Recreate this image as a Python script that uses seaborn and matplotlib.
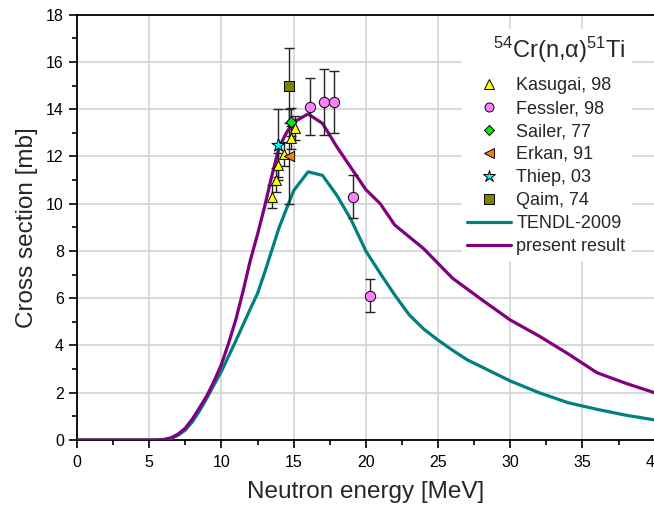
import numpy as np
import pandas as pd
import matplotlib
matplotlib.use("Agg")
import matplotlib.pyplot as plt
from matplotlib.lines import Line2D
import seaborn as sns

# ---- data ----
tendl_e = [0, 5, 6, 6.5, 7, 7.5, 8, 8.5, 9, 9.5, 10, 11, 12, 12.5, 13, 14, 15, 16, 17, 18,
           19, 20, 21, 22, 23, 24, 25, 26, 27, 28, 30, 32, 34, 36, 38, 40]
tendl_xs = [0, 0, 0.01, 0.06, 0.2, 0.42, 0.78, 1.25, 1.78, 2.35, 2.9, 4.2, 5.55, 6.2, 7.1, 9.0,
            10.55, 11.35, 11.2, 10.35, 9.3, 8.0, 7.05, 6.14, 5.3, 4.7, 4.23, 3.8, 3.4, 3.1,
            2.5, 2.0, 1.58, 1.3, 1.05, 0.85]

present_e = [0, 5.5, 6, 6.5, 7, 7.5, 8, 8.5, 9, 9.5, 10, 10.5, 11, 11.5, 12, 12.5, 13, 13.5,
             14, 14.5, 15, 16, 17, 18, 19, 20, 21, 22, 24, 26, 28, 30, 32, 34, 36, 38, 40]
present_xs = [0, 0, 0.02, 0.09, 0.25, 0.5, 0.9, 1.38, 1.88, 2.5, 3.2, 4.1, 5.1, 6.3, 7.6, 8.7,
              9.9, 11.2, 12.4, 13.0, 13.45, 13.8, 13.4, 12.4, 11.5, 10.6, 10.0, 9.1, 8.1,
              6.85, 5.95, 5.08, 4.4, 3.65, 2.85, 2.4, 2.0]

kasugai_e = [13.5, 13.8, 13.95, 14.3, 14.8, 15.1]
kasugai_xs = [10.3, 11.0, 11.65, 12.1, 12.8, 13.2]
kasugai_err = [0.5, 0.5, 0.5, 0.5, 0.5, 0.5]

fessler_e = [16.1, 17.1, 17.8, 19.1, 20.3]
fessler_xs = [14.1, 14.3, 14.3, 10.3, 6.1]
fessler_err = [1.2, 1.4, 1.3, 0.9, 0.7]

sailer_e = [14.8]
sailer_xs = [13.45]
sailer_err = [0.6]

erkan_e = [14.65]
erkan_xs = [12.0]
erkan_err = [2.0]

thiep_e = [13.95]
thiep_xs = [12.5]
thiep_err = [1.5]

qaim_e = [14.7]
qaim_xs = [15.0]
qaim_err = [1.6]

# ---- style ----
sns.set_theme(style="ticks")
plt.rcParams['font.family'] = ['Liberation Sans', 'DejaVu Sans']
plt.rcParams['mathtext.fontset'] = 'custom'
plt.rcParams['mathtext.rm'] = 'Liberation Sans'
plt.rcParams['mathtext.it'] = 'Liberation Sans:italic'

fig = plt.figure(figsize=(6.54, 5.13), dpi=100)
ax = fig.add_axes([77/654, 1-440/513, 1.0 - 77/654 + 0.001, (440-14.7)/513])

teal = '#008080'
purple = '#800080'

sns.lineplot(x=tendl_e, y=tendl_xs, ax=ax, color=teal, lw=2.3, zorder=3, sort=False)
sns.lineplot(x=present_e, y=present_xs, ax=ax, color=purple, lw=2.3, zorder=4, sort=False)

series = [
    (kasugai_e, kasugai_xs, kasugai_err, '^', '#ffff00', 50),
    (fessler_e, fessler_xs, fessler_err, 'o', '#ff80ff', 55),
    (sailer_e, sailer_xs, sailer_err, 'D', '#00ee00', 30),
    (erkan_e, erkan_xs, erkan_err, '<', '#ff8000', 55),
    (thiep_e, thiep_xs, thiep_err, '*', '#00ffff', 100),
    (qaim_e, qaim_xs, qaim_err, 's', '#808000', 60),
]
for e, v, err, m, c, s in series:
    ax.errorbar(e, v, yerr=err, fmt='none', ecolor='#222222', elinewidth=1.0,
                capsize=3.5, capthick=1.0, zorder=5)
for e, v, err, m, c, s in series:
    sns.scatterplot(x=e, y=v, ax=ax, marker=m, color=c, s=s, edgecolor='black',
                    linewidth=0.7, zorder=6)

ax.set_xlim(0, 40)
ax.set_ylim(0, 18)
ax.set_xticks(np.arange(0, 41, 5))
ax.set_xticks(np.arange(0, 41, 2.5), minor=True)
ax.set_yticks(np.arange(0, 19, 2))
ax.set_yticks(np.arange(0, 19, 1), minor=True)
ax.grid(True, which='major', color='#d0d0d0', lw=1.1)
ax.set_axisbelow(True)

for side in ['left', 'bottom', 'top']:
    ax.spines[side].set_color('black')
    ax.spines[side].set_linewidth(1.3)
ax.spines['right'].set_visible(False)
ax.tick_params(axis='both', which='major', direction='out', length=6, width=1.2,
               labelsize=11.5, color='black', labelcolor='black', top=False)
ax.tick_params(axis='both', which='minor', direction='out', length=3.5, width=1.2,
               color='black', top=False)
ax.tick_params(axis='x', pad=5)

ax.set_xlabel('Neutron energy [MeV]', fontsize=17.5, labelpad=8)
ax.set_ylabel('Cross section [mb]', fontsize=17.5, labelpad=6)

handles = [
    Line2D([], [], ls='none', marker='^', mfc='#ffff00', mec='black', mew=0.7, ms=7),
    Line2D([], [], ls='none', marker='o', mfc='#ff80ff', mec='black', mew=0.7, ms=6.5),
    Line2D([], [], ls='none', marker='D', mfc='#00ee00', mec='black', mew=0.7, ms=5.5),
    Line2D([], [], ls='none', marker='<', mfc='#ff8000', mec='black', mew=0.7, ms=7),
    Line2D([], [], ls='none', marker='*', mfc='#00ffff', mec='black', mew=0.7, ms=9),
    Line2D([], [], ls='none', marker='s', mfc='#808000', mec='black', mew=0.7, ms=6.5),
    Line2D([], [], color=teal, lw=2.3),
    Line2D([], [], color=purple, lw=2.3),
]
labels = ['Kasugai, 98', 'Fessler, 98', 'Sailer, 77', 'Erkan, 91', 'Thiep, 03',
          'Qaim, 74', 'TENDL-2009', 'present result']
leg = ax.legend(handles, labels, title='$^{54}$Cr(n,α)$^{51}$Ti',
                loc='upper left', bbox_to_anchor=(462/654, 1-29/513),
                bbox_transform=fig.transFigure, fontsize=13, title_fontsize=17,
                frameon=True, facecolor='white', edgecolor='white', framealpha=1,
                handlelength=2.4, handletextpad=0.3, labelspacing=0.33,
                borderpad=0.3, borderaxespad=0, fancybox=False, alignment='right')
leg._legend_box.sep = 9
leg.set_zorder(10)

fig.savefig('out.png', dpi=100)
